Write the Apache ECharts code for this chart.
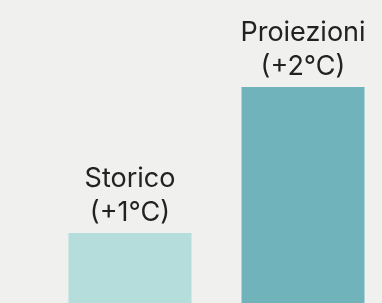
<!DOCTYPE html>
<html>
<head>
<meta charset="utf-8">
<script src="https://cdn.jsdelivr.net/npm/echarts@6/dist/echarts.min.js"></script>
<style>
html, body { margin: 0; padding: 0; background: #f0f0ee; }
#container { width: 382px; height: 303px; }
</style>
</head>
<body>
<div id="container"></div>
<script>
// dati
var categories = ['Storico', 'Proiezioni'];
var values = [1, 2];
var deltaLabels = ['(+1°C)', '(+2°C)'];
var barColors = ['#b4dddb', '#70b3bb'];

var dom = document.getElementById('container');
var myChart = echarts.init(dom);

var seriesData = [];
for (var i = 0; i < values.length; i++) {
    seriesData.push({
        value: values[i],
        itemStyle: { color: barColors[i] }
    });
}

var option = {
    backgroundColor: '#f0f0ee',
    animation: false,
    grid: {
        left: 130,
        right: 79,
        top: 14,
        bottom: 0
    },
    xAxis: {
        type: 'category',
        data: categories,
        boundaryGap: false,
        axisLine: { show: false },
        axisTick: { show: false },
        axisLabel: { show: false },
        splitLine: { show: false }
    },
    yAxis: {
        type: 'value',
        min: 0.52,
        max: 2.5,
        show: false,
        splitLine: { show: false }
    },
    series: [{
        type: 'bar',
        data: seriesData,
        barWidth: 123,
        clip: false,
        label: {
            show: true,
            position: 'top',
            distance: 3,
            color: '#222222',
            fontFamily: 'Inter',
            fontSize: 27,
            lineHeight: 34,
            formatter: function (p) {
                return p.name + '\n' + deltaLabels[p.dataIndex];
            }
        }
    }]
};
myChart.setOption(option, true);
</script>
</body>
</html>
